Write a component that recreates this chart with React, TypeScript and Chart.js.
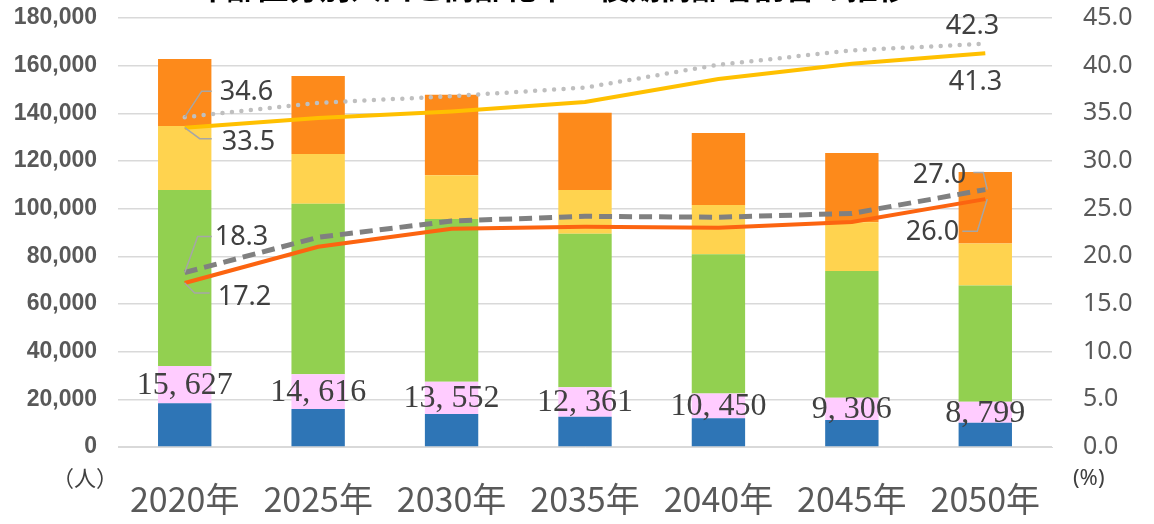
import React, { useEffect, useRef } from "react";
import { Chart, registerables } from "chart.js";

Chart.register(...registerables);

const TITLE = "年齢区分別人口と高齢化率・後期高齢者割合の推移";
const categories = ["2020年", "2025年", "2030年", "2035年", "2040年", "2045年", "2050年"];
const age0to14 = [18400, 15950, 13850, 12700, 12050, 11350, 10200];
const age15to19 = [15627, 14616, 13552, 12361, 10450, 9306, 8799];
const age20to64 = [73800, 71450, 68300, 64400, 58400, 53150, 48750];
const age65to74 = [26900, 20950, 18300, 18350, 20600, 20500, 17650];
const age75plus = [28100, 32750, 33800, 32400, 30300, 29100, 30000];
const agingRate = [33.5, 34.5, 35.2, 36.2, 38.6, 40.2, 41.3];
const agingRateRef = [34.6, 36.1, 36.8, 37.7, 40.1, 41.6, 42.3];
const lateElderlyRate = [17.2, 21.0, 22.9, 23.1, 23.0, 23.6, 26.0];
const lateElderlyRateRef = [18.3, 22.0, 23.7, 24.2, 24.1, 24.5, 27.0];
const leftTicks = [0, 20000, 40000, 60000, 80000, 100000, 120000, 140000, 160000, 180000];
const rightTicks = [0, 5, 10, 15, 20, 25, 30, 35, 40, 45];

const W = 1154;
const H = 524;

function zeroPad(scale: any) {
  scale.paddingTop = 0;
  scale.paddingBottom = 0;
  scale.paddingLeft = 0;
  scale.paddingRight = 0;
}

export default function App() {
  const ref = useRef<HTMLCanvasElement | null>(null);

  useEffect(() => {
    if (!ref.current) return;

    const pinkLabels = {
      id: "pinkLabels",
      afterDatasetsDraw(chart: any) {
        const ctx = chart.ctx;
        const meta = chart.getDatasetMeta(1);
        ctx.save();
        ctx.font = '32px "Liberation Serif", "DejaVu Serif", serif';
        ctx.fillStyle = "#404040";
        ctx.textAlign = "center";
        ctx.textBaseline = "middle";
        meta.data.forEach((el: any, i: number) => {
          const txt = age15to19[i].toLocaleString("en-US").replace(",", ", ");
          const cy = (el.y + el.base) / 2;
          ctx.fillText(txt, el.x, cy + 1);
        });
        ctx.restore();
      },
    };

    const lineLabelDefs: any[] = [
      { ds: 6, i: 0, dx: 35, dy: -25, align: "left", leader: [[0, 0], [17, -26], [27, -26]] },
      { ds: 5, i: 0, dx: 37, dy: 15, align: "left", leader: [[0, 0], [15, 11], [27, 11]] },
      { ds: 8, i: 0, dx: 30, dy: -35, align: "left", leader: [[0, 0], [13, -36], [27, -36]] },
      { ds: 7, i: 0, dx: 33, dy: 14, align: "left", leader: [[0, 0], [10, 10], [25, 10]] },
      { ds: 6, i: 6, dx: 14, dy: -17, align: "right", leader: null },
      { ds: 5, i: 6, dx: 17, dy: 29, align: "right", leader: null },
      { ds: 8, i: 6, dx: -19, dy: -14, align: "right", leader: [[-12, -17], [-2, -17], [2, 0]] },
      { ds: 7, i: 6, dx: -26, dy: 33, align: "right", leader: [[2, 0], [-8, 32], [-23, 32]] },
    ];

    const lineLabels = {
      id: "lineLabels",
      afterDatasetsDraw(chart: any) {
        const ctx = chart.ctx;
        ctx.save();
        lineLabelDefs.forEach((d) => {
          const meta = chart.getDatasetMeta(d.ds);
          const el = meta.data[d.i];
          const v = chart.data.datasets[d.ds].data[d.i] as number;
          if (d.leader) {
            ctx.beginPath();
            ctx.strokeStyle = "#a6a6a6";
            ctx.lineWidth = 1.5;
            d.leader.forEach((p: number[], k: number) => {
              if (k === 0) ctx.moveTo(el.x + p[0], el.y + p[1]);
              else ctx.lineTo(el.x + p[0], el.y + p[1]);
            });
            ctx.stroke();
          }
          ctx.font = '27px "Noto Sans", "Open Sans", sans-serif';
          ctx.fillStyle = "#404040";
          ctx.textAlign = d.align;
          ctx.textBaseline = "middle";
          ctx.fillText(v.toFixed(1), el.x + d.dx, el.y + d.dy);
        });
        ctx.restore();
      },
    };

    const extras = {
      id: "extras",
      afterDraw(chart: any) {
        const ctx = chart.ctx;
        ctx.save();
        ctx.fillStyle = "#000000";
        ctx.font = 'bold 31px "Noto Sans CJK JP", sans-serif';
        ctx.textAlign = "center";
        ctx.textBaseline = "alphabetic";
        ctx.fillText(TITLE, 552, -1);
        ctx.fillStyle = "#404040";
        ctx.font = '22px "Noto Sans CJK JP", sans-serif';
        ctx.textBaseline = "middle";
        ctx.textAlign = "right";
        ctx.fillText("（人）", 118, 478);
        ctx.textAlign = "left";
        ctx.font = '22px "Noto Sans", sans-serif';
        ctx.fillText("(%)", 1073, 479);
        ctx.restore();
      },
    };

    const barCommon = { type: "bar", yAxisID: "y", order: 2, barPercentage: 0.5, categoryPercentage: 0.8, borderWidth: 0 };
    const lineCommon = { type: "line", yAxisID: "y1", order: 1, pointRadius: 0, fill: false, tension: 0 };

    const chart = new Chart(ref.current, {
      type: "bar",
      data: {
        labels: categories,
        datasets: [
          { ...barCommon, label: "0～14歳", data: age0to14, backgroundColor: "#2e75b6" },
          { ...barCommon, label: "15～19歳", data: age15to19, backgroundColor: "#ffccff" },
          { ...barCommon, label: "20～64歳", data: age20to64, backgroundColor: "#92d050" },
          { ...barCommon, label: "65～74歳", data: age65to74, backgroundColor: "#ffd34f" },
          { ...barCommon, label: "75歳以上", data: age75plus, backgroundColor: "#fd8a1b" },
          { ...lineCommon, label: "高齢化率", data: agingRate, borderColor: "#ffc000", borderWidth: 4 },
          { ...lineCommon, label: "高齢化率（全国）", data: agingRateRef, borderColor: "#bfbfbf", borderWidth: 4.5, borderDash: [0, 9.5], borderCapStyle: "round" },
          { ...lineCommon, label: "後期高齢者割合", data: lateElderlyRate, borderColor: "#fc6410", borderWidth: 4 },
          { ...lineCommon, label: "後期高齢者割合（全国）", data: lateElderlyRateRef, borderColor: "#808080", borderWidth: 5, borderDash: [13, 7] },
        ] as any,
      },
      options: {
        responsive: false,
        animation: false,
        layout: { padding: { top: 18, left: 0, right: 0, bottom: 0 } },
        plugins: { legend: { display: false }, tooltip: { enabled: false }, title: { display: false } },
        scales: {
          x: {
            stacked: true,
            grid: { display: false, drawTicks: false },
            border: { display: true, color: "#d9d9d9", width: 1 },
            ticks: {
              color: "#595959",
              padding: 32,
              font: { family: '"Liberation Sans Narrow", "Noto Sans CJK JP", sans-serif', size: 34 },
              maxRotation: 0,
              autoSkip: false,
            },
            afterFit(scale: any) {
              scale.height = 77;
              zeroPad(scale);
            },
          },
          y: {
            stacked: true,
            min: 0,
            max: 180000,
            afterBuildTicks(scale: any) {
              scale.ticks = leftTicks.map((v) => ({ value: v }));
            },
            ticks: {
              color: "#595959",
              padding: 21,
              font: { family: '"Liberation Sans", Arial, sans-serif', size: 23, weight: "bold" },
              callback: (v: any) => Number(v).toLocaleString("en-US"),
            },
            grid: { color: "#d9d9d9", lineWidth: 1.5, drawTicks: false },
            border: { display: false },
            afterFit(scale: any) {
              scale.width = 118;
              zeroPad(scale);
            },
          },
          y1: {
            position: "right",
            min: 0,
            max: 45,
            afterBuildTicks(scale: any) {
              scale.ticks = rightTicks.map((v) => ({ value: v }));
            },
            ticks: {
              color: "#595959",
              padding: 31,
              font: { family: '"Noto Sans", "Open Sans", sans-serif', size: 25 },
              callback: (v: any) => Number(v).toFixed(1),
            },
            grid: { drawOnChartArea: false, drawTicks: false },
            border: { display: false },
            afterFit(scale: any) {
              scale.width = 102;
              zeroPad(scale);
            },
          },
        },
      } as any,
      plugins: [pinkLabels, lineLabels, extras],
    });

    return () => chart.destroy();
  }, []);

  return (
    <div style={{ position: "fixed", left: 0, top: 0, width: W, height: H, background: "#ffffff" }}>
      <canvas ref={ref} width={W} height={H} style={{ display: "block" }} />
    </div>
  );
}
